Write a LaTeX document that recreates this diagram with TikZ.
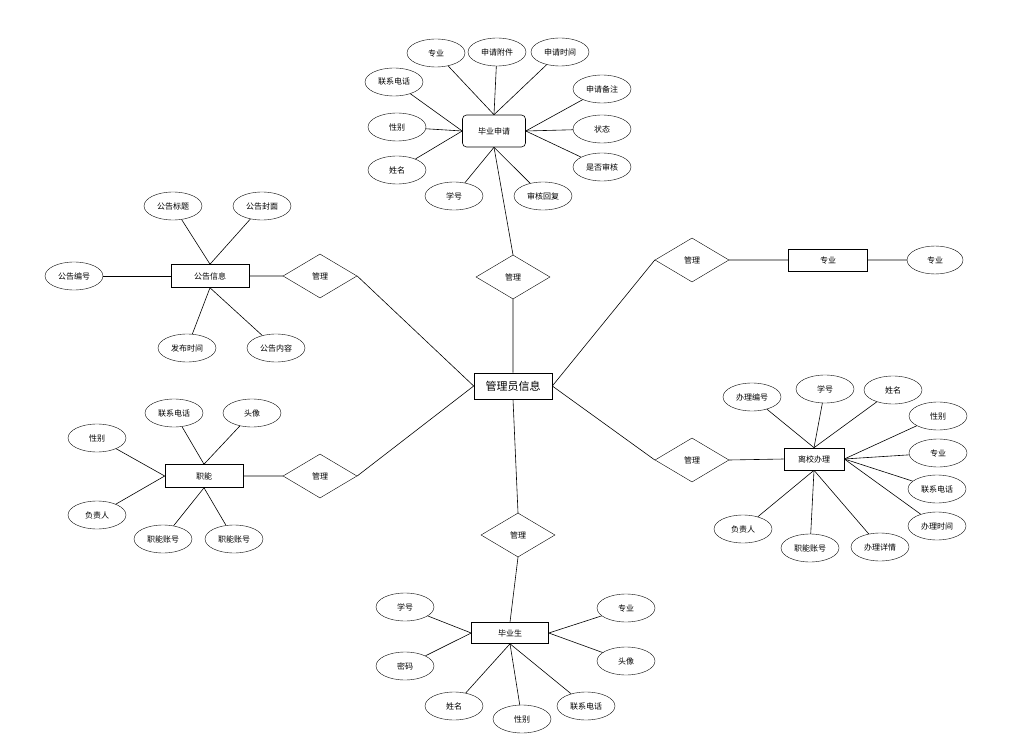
\documentclass[tikz,border=0pt]{standalone}
\usepackage{fontspec}
\newfontfamily\cjk{Noto Sans CJK SC}
\usetikzlibrary{shapes.geometric}
\tikzset{
  attr/.style={ellipse, draw, thin, minimum width=58pt, minimum height=28pt, inner sep=0pt},
  ent/.style={rectangle, draw, semithick, minimum width=78pt, minimum height=23pt, inner sep=1pt},
  rel/.style={diamond, draw, thin, minimum width=74pt, minimum height=44pt, inner sep=0pt},
  link/.style={draw, line width=0.6pt}
}
\begin{document}
\begin{tikzpicture}[x=1pt, y=-1pt, font=\cjk\fontsize{8}{9}\selectfont]
  \useasboundingbox (0,0) rectangle (1018,738);
  % centre
  \node[ent, minimum height=26pt, font=\cjk\fontsize{11}{13}\selectfont] (admin) at (513,386) {管理员信息};
  % relations
  \node[rel] (rtop) at (513,277) {管理};
  \node[rel] (rgg) at (320,276) {管理};
  \node[rel] (rzn) at (320,476) {管理};
  \node[rel] (rbot) at (518,535) {管理};
  \node[rel] (rzy) at (692,260) {管理};
  \node[rel] (rlx) at (692,460) {管理};
  % entities
  \node[ent, rounded corners=4pt, minimum width=63pt, minimum height=32pt] (sq) at (494,131) {毕业申请};
  \node[ent] (gg) at (210,276) {公告信息};
  \node[ent] (zn) at (204,476) {职能};
  \node[ent, minimum width=77pt, minimum height=21pt] (bys) at (510,633) {毕业生};
  \node[ent, minimum width=79pt, minimum height=22pt] (zy) at (828,260) {专业};
  \node[ent, minimum width=60pt, minimum height=22pt] (lx) at (814,459) {离校办理};
  \node[attr, minimum width=56pt] (zya) at (935,260) {专业};

  \draw[link] (admin.north) -- (rtop.south) (rtop.north) -- (sq.south);
  \draw[link] (admin.west) -- (rgg.east) (rgg.west) -- (gg.east);
  \draw[link] (admin.west) -- (rzn.east) (rzn.west) -- (zn.east);
  \draw[link] (admin.south) -- (rbot.north) (rbot.south) -- (bys.north);
  \draw[link] (admin.east) -- (rzy.west) (rzy.east) -- (zy.west) (zy.east) -- (zya.west);
  \draw[link] (admin.east) -- (rlx.west) (rlx.east) -- (lx.west);

  % 毕业申请
  \foreach \n/\t/\x/\y/\a in {a1/专业/436/53/north, a2/申请附件/497/52/north, a3/申请时间/560/52/north,
      a4/联系电话/394/82/west, a5/申请备注/602/89/east, a6/性别/397/127/west, a7/状态/602/129/east,
      a8/姓名/397/170/west, a9/是否审核/602/167/east, a10/学号/454/196/south, a11/审核回复/543/196/south}
    {\node[attr] (\n) at (\x,\y) {\t};
     \draw[link] (sq.\a) -- (\n);}
  % 公告信息
  \foreach \n/\t/\x/\y/\a in {b1/公告标题/173/206/north, b2/公告封面/262/206/north, b3/公告编号/74/276/west,
      b4/发布时间/187/348/south, b5/公告内容/276/348/south}
    {\node[attr] (\n) at (\x,\y) {\t};
     \draw[link] (gg.\a) -- (\n);}
  % 职能
  \foreach \n/\t/\x/\y/\a in {c1/性别/97/438/west, c2/联系电话/174/413/north, c3/头像/252/413/north,
      c4/负责人/97/515/west, c5/职能账号/163/539/south, c6/职能账号/234/539/south}
    {\node[attr] (\n) at (\x,\y) {\t};
     \draw[link] (zn.\a) -- (\n);}
  % 毕业生
  \foreach \n/\t/\x/\y/\a in {d1/学号/405/607/west, d2/专业/626/608/east, d3/密码/405/666/west,
      d4/头像/626/661/east, d5/姓名/454/706/south, d6/性别/522/719/south, d7/联系电话/586/706/south}
    {\node[attr] (\n) at (\x,\y) {\t};
     \draw[link] (bys.\a) -- (\n);}
  % 离校办理
  \foreach \n/\t/\x/\y/\a in {e1/办理编号/752/397/north, e2/学号/825/389/north, e3/姓名/893/390/north,
      e4/性别/938/416/east, e5/专业/938/453/east, e6/联系电话/937/489/east, e7/办理时间/937/526/east,
      e8/负责人/743/529/south, e9/职能账号/810/548/south, e10/办理详情/880/547/south}
    {\node[attr] (\n) at (\x,\y) {\t};
     \draw[link] (lx.\a) -- (\n);}
\end{tikzpicture}
\end{document}
